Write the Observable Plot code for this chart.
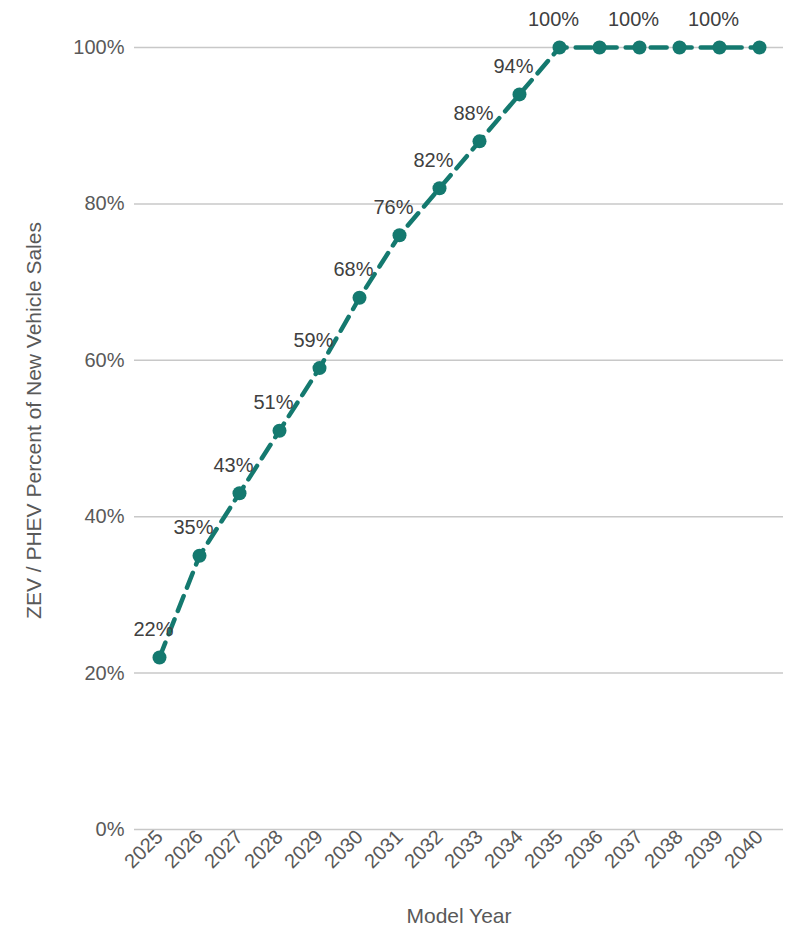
<!DOCTYPE html>
<html>
<head>
<meta charset="utf-8">
<script src="https://cdn.jsdelivr.net/npm/d3@7"></script>
<script src="https://cdn.jsdelivr.net/npm/@observablehq/plot@0.6"></script>
<style>
  body { margin: 0; background: #fff; font-family: Arial, "Liberation Sans", sans-serif; }
</style>
</head>
<body>
<div id="chart"></div>
<script>
const years = [2025, 2026, 2027, 2028, 2029, 2030, 2031, 2032, 2033, 2034, 2035, 2036, 2037, 2038, 2039, 2040];
const shares = [22, 35, 43, 51, 59, 68, 76, 82, 88, 94, 100, 100, 100, 100, 100, 100];
const labeled = [true, true, true, true, true, true, true, true, true, true, true, false, true, false, true, false];

const data = years.map((y, i) => ({year: String(y), share: shares[i], label: labeled[i]}));
const teal = "#14796f";
const gray = "#595959";

const chart = Plot.plot({
  width: 795,
  height: 945,
  marginLeft: 134,
  marginRight: 12,
  marginTop: 47,
  marginBottom: 116,
  style: {fontFamily: "Arial, 'Liberation Sans', sans-serif", fontSize: "20px", color: gray},
  x: {type: "point", padding: 0.5, label: null, tickRotate: -45, tickSize: 0, tickPadding: 4},
  y: {domain: [0, 100], ticks: [0, 20, 40, 60, 80, 100], tickFormat: d => d + "%", label: null, tickSize: 0, tickPadding: 10},
  marks: [
    Plot.gridY([20, 40, 60, 80, 100], {stroke: "#c8c8c8", strokeOpacity: 1, strokeWidth: 1.5}),
    Plot.ruleY([0], {stroke: "#c8c8c8", strokeWidth: 1.5}),
    Plot.line(data, {x: "year", y: "share", stroke: teal, strokeWidth: 4.5, strokeDasharray: "16,9"}),
    Plot.dot(data, {x: "year", y: "share", fill: teal, r: 7}),
    Plot.text(data.filter(d => d.label), {x: "year", y: "share", text: d => d.share + "%", dx: -6, dy: -28, fill: "#404040", fontSize: 20}),
    Plot.text(["ZEV / PHEV Percent of New Vehicle Sales"], {frameAnchor: "left", textAnchor: "middle", dx: -100, dy: -18, rotate: -90, fill: gray, fontSize: 21}),
    Plot.text(["Model Year"], {frameAnchor: "bottom", dy: 93, fill: gray, fontSize: 21})
  ]
});
document.getElementById("chart").append(chart);
</script>
</body>
</html>
